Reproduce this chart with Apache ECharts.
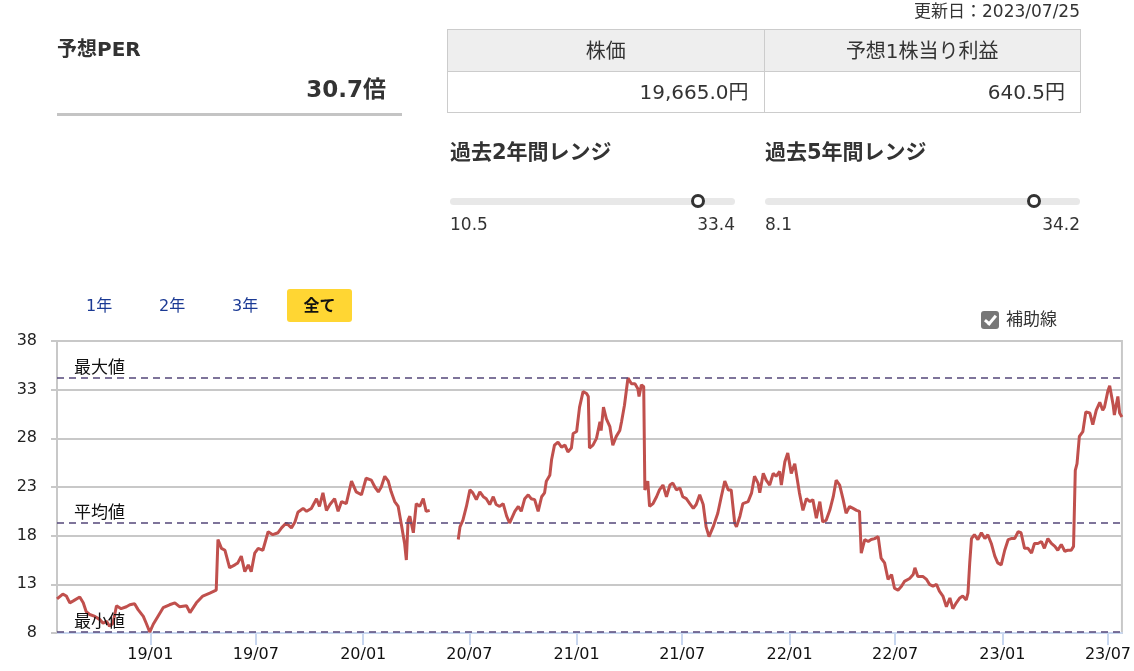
<!DOCTYPE html>
<html><head><meta charset="utf-8">
<script src="https://cdn.jsdelivr.net/npm/echarts@6/dist/echarts.min.js"></script>
<style>
html,body{margin:0;padding:0;background:#fff;}
body{width:1134px;height:671px;position:relative;overflow:hidden;font-family:"DejaVu Sans","Noto Sans CJK JP",sans-serif;color:#333;}
#chart{position:absolute;left:0;top:0;width:1134px;height:671px;}
.a{position:absolute;white-space:nowrap;line-height:1;z-index:2;}
.b{font-weight:bold;}
table.t{position:absolute;left:447px;top:29px;width:634px;border-collapse:collapse;z-index:2;font-size:20px;color:#333;table-layout:fixed;}
table.t td{border:1px solid #ccc;padding:0 15px;line-height:1;}
table.t tr.h td{background:#eee;height:41px;text-align:center;}
table.t tr.v td{height:40px;text-align:right;}
.track{position:absolute;height:7px;background:#e8e8e8;border-radius:4px;z-index:2;}
.knob{position:absolute;width:8px;height:8px;border:3px solid #333;border-radius:50%;background:#fff;z-index:3;}
.tab{position:absolute;font-size:16px;color:#1b3a94;line-height:1;z-index:2;}
.sel{position:absolute;left:287px;top:289px;width:65px;height:33px;background:#ffd633;border-radius:3px;z-index:2;font-size:16px;font-weight:bold;color:#111;text-align:center;line-height:33px;}
.cb{position:absolute;left:981px;top:311px;width:18px;height:18px;background:#777;border-radius:3px;z-index:2;}
.cb:after{content:"";position:absolute;left:6px;top:2px;width:4px;height:9px;border-right:3px solid #fff;border-bottom:3px solid #fff;transform:rotate(40deg);}
</style>
</head><body>
<div id="chart"></div>
<div class="a" style="right:54px;top:3px;font-size:17px;">更新日：2023/07/25</div>
<div class="a b" style="left:57px;top:39px;font-size:20px;">予想PER</div>
<div class="a b" style="right:748px;top:78px;font-size:23px;">30.7倍</div>
<div style="position:absolute;left:57px;top:113px;width:345px;height:3px;background:#c4c4c4;z-index:2;"></div>
<table class="t">
<tr class="h"><td>株価</td><td>予想1株当り利益</td></tr>
<tr class="v"><td>19,665.0円</td><td>640.5円</td></tr>
</table>
<div class="a b" style="left:450px;top:142px;font-size:21px;">過去2年間レンジ</div>
<div class="a b" style="left:765px;top:142px;font-size:21px;">過去5年間レンジ</div>
<div class="track" style="left:450px;top:198px;width:285px;"></div>
<div class="track" style="left:765px;top:198px;width:315px;"></div>
<div class="knob" style="left:691px;top:194px;"></div>
<div class="knob" style="left:1027px;top:194px;"></div>
<div class="a" style="left:450px;top:216px;font-size:17px;">10.5</div>
<div class="a" style="right:399px;top:216px;font-size:17px;">33.4</div>
<div class="a" style="left:765px;top:216px;font-size:17px;">8.1</div>
<div class="a" style="right:54px;top:216px;font-size:17px;">34.2</div>
<div class="tab" style="left:86px;top:298px;">1年</div>
<div class="tab" style="left:159px;top:298px;">2年</div>
<div class="tab" style="left:232px;top:298px;">3年</div>
<div class="sel">全て</div>
<div class="cb"></div>
<div class="a" style="left:1006px;top:311px;font-size:17px;">補助線</div>
<script>
// ---- data ----
const startDate = [2018, 7, 25];
const endDate = [2023, 7, 25];
// days since 2018/07/25
const dayOffsets = [0,10,16,22,28,39,45,50,56,65,73,79,85,90,96,102,110,119,125,133,139,148,153,159,165,173,182,193,202,210,222,228,239,250,262,273,276,282,288,296,305,310,316,322,328,333,339,345,353,362,370,379,385,393,402,408,413,422,428,436,445,450,456,462,468,476,482,488,496,505,513,522,530,539,545,551,556,562,568,573,579,585,590,596,599,602,605,611,616,622,628,633,639,660,688,691,696,702,708,713,719,725,731,736,742,748,753,759,765,771,776,785,791,796,802,808,813,819,825,831,836,839,845,848,853,859,865,871,876,882,885,891,896,902,908,911,913,919,925,931,933,937,942,948,953,959,965,968,973,979,985,991,996,998,1002,1006,1008,1013,1016,1022,1028,1033,1039,1045,1051,1056,1062,1068,1073,1079,1085,1091,1096,1102,1108,1113,1118,1125,1133,1139,1145,1151,1156,1162,1165,1171,1176,1185,1191,1196,1202,1205,1211,1216,1222,1228,1233,1239,1242,1248,1253,1259,1265,1268,1273,1279,1285,1291,1296,1302,1308,1313,1319,1325,1331,1336,1342,1348,1353,1359,1365,1371,1376,1379,1385,1391,1396,1402,1408,1413,1419,1425,1431,1436,1442,1448,1453,1462,1468,1471,1476,1485,1491,1496,1502,1508,1513,1519,1525,1531,1536,1542,1548,1553,1559,1562,1565,1568,1573,1579,1585,1591,1596,1602,1608,1613,1619,1625,1631,1636,1642,1648,1653,1659,1665,1671,1676,1682,1688,1693,1699,1705,1711,1716,1722,1728,1733,1739,1743,1746,1749,1753,1759,1764,1771,1776,1782,1788,1793,1796,1802,1805,1811,1813,1819,1822,1826];
const perValues = [11.5,12.0,11.8,11.1,11.3,11.7,11.1,10.2,9.9,9.7,9.4,9.0,9.2,8.7,9.0,10.8,10.5,10.7,10.9,11.0,10.4,9.7,9.0,8.1,8.9,9.7,10.6,10.9,11.1,10.7,10.8,10.1,11.1,11.8,12.1,12.4,17.6,16.7,16.5,14.7,15.0,15.2,15.9,14.3,15.0,14.3,16.2,16.7,16.5,18.4,18.1,18.3,18.8,19.3,18.8,19.4,20.4,20.8,20.5,20.8,21.8,21.0,22.4,20.6,21.2,21.8,20.5,21.5,21.3,23.6,22.5,22.2,23.9,23.7,23.0,22.5,23.0,24.1,23.6,22.5,21.5,21.0,19.3,17.2,15.5,19.6,20.0,18.3,21.3,21.0,21.8,20.5,20.6,null,17.6,18.9,19.6,21.0,22.7,22.4,21.7,22.5,22.0,21.8,21.2,22.0,21.2,21.0,21.3,20.0,19.3,20.5,21.0,20.5,21.8,22.2,21.8,21.7,20.5,22.0,22.4,23.6,24.2,25.8,27.3,27.6,27.1,27.3,26.6,27.0,28.5,28.7,31.2,32.8,32.6,32.3,27.0,27.3,28.0,29.7,28.8,31.2,30.0,29.2,27.3,28.2,28.8,29.7,31.4,34.2,33.6,33.6,33.1,32.3,33.5,33.3,22.7,23.6,21.0,21.3,22.0,22.7,23.2,22.0,23.2,23.4,22.7,22.9,22.0,21.8,21.3,20.8,21.2,22.2,21.2,18.9,17.9,18.9,20.3,22.0,23.6,22.7,22.7,19.3,18.9,20.0,21.3,21.5,22.4,24.1,23.4,22.4,24.4,23.7,23.2,24.4,24.1,24.6,23.2,25.6,26.5,24.4,25.4,25.4,22.4,20.6,21.8,21.5,21.7,19.8,21.5,19.4,19.6,20.6,22.0,23.7,23.2,21.7,20.3,21.0,20.8,20.6,20.5,16.2,17.6,17.4,17.6,17.7,17.9,15.7,15.2,13.5,14.0,12.6,12.4,12.8,13.3,13.6,14.0,14.7,13.8,13.8,13.5,13.0,12.8,13.0,12.3,11.8,10.7,11.6,10.5,11.1,11.6,11.8,11.4,12.1,15.2,17.7,18.1,17.6,18.3,17.7,18.1,17.2,15.9,15.2,15.0,16.5,17.6,17.7,17.7,18.4,18.3,16.7,16.7,16.2,17.2,17.2,17.4,16.7,17.7,17.2,16.9,16.5,17.1,16.4,16.5,16.5,16.9,24.7,25.4,28.2,28.7,30.7,30.6,29.4,30.9,31.7,30.9,31.2,32.9,33.4,31.4,30.4,32.3,30.6,30.2];
const refLineValues = [34.2, 19.3, 8.1];
const refLineNames = ['最大値', '平均値', '最小値'];
const xTickDates = [[2019,1,1],[2019,7,1],[2020,1,1],[2020,7,1],[2021,1,1],[2021,7,1],[2022,1,1],[2022,7,1],[2023,1,1],[2023,7,1]];
const xTickLabels = ['19/01','19/07','20/01','20/07','21/01','21/07','22/01','22/07','23/01','23/07'];
const yMin = 8, yMax = 38, yStep = 5;

// ---- build ----
const DAY = 86400000;
const ts = (a) => new Date(a[0], a[1] - 1, a[2]).getTime();
const t0 = ts(startDate), t1 = ts(endDate);
const seriesData = dayOffsets.map((d, i) => [t0 + d * DAY, perValues[i] === null ? '-' : perValues[i]]);
const tickTimes = xTickDates.map(ts);
const FONT = '"DejaVu Sans","Noto Sans CJK JP",sans-serif';

const chart = echarts.init(document.getElementById('chart'), null, {renderer: 'canvas'});
chart.setOption({
  animation: false,
  textStyle: {fontFamily: FONT},
  grid: {left: 57, right: 12, top: 341, bottom: 38, show: true, borderColor: '#c8c8c8', borderWidth: 2, backgroundColor: 'transparent'},
  xAxis: {
    type: 'value', min: t0, max: t1, scale: true,
    axisLine: {show: true, lineStyle: {color: '#c9d7ef', width: 2}},
    axisTick: {show: true, length: 12, customValues: tickTimes, lineStyle: {color: '#c9d7ef', width: 2}},
    axisLabel: {
      customValues: tickTimes, fontSize: 16, color: '#111', margin: 14, fontFamily: FONT,
      formatter: (v) => { const i = tickTimes.indexOf(v); return i >= 0 ? xTickLabels[i] : ''; }
    },
    splitLine: {show: false}
  },
  yAxis: {
    type: 'value', min: yMin, max: yMax, interval: yStep,
    axisLine: {show: true, lineStyle: {color: '#c8c8c8', width: 2}},
    axisTick: {show: true, length: 6, lineStyle: {color: '#c8c8c8', width: 2}},
    axisLabel: {fontSize: 16, color: '#222', margin: 20, fontFamily: FONT},
    splitLine: {show: true, lineStyle: {color: '#c8c8c8', width: 2}}
  },
  series: [{
    type: 'line', data: seriesData, showSymbol: false, connectNulls: false,
    lineStyle: {color: '#c0504d', width: 3}, itemStyle: {color: '#c0504d'},
    markLine: {
      silent: true, symbol: ['none', 'none'],
      lineStyle: {type: [7, 5], color: '#54477a', width: 1.5},
      label: {position: 'insideStartTop', color: '#111', fontSize: 17, fontFamily: FONT, distance: [17, 1]},
      data: refLineValues.map((v, i) => ({yAxis: v, label: {formatter: refLineNames[i]}}))
    }
  }]
});
</script>
</body></html>
